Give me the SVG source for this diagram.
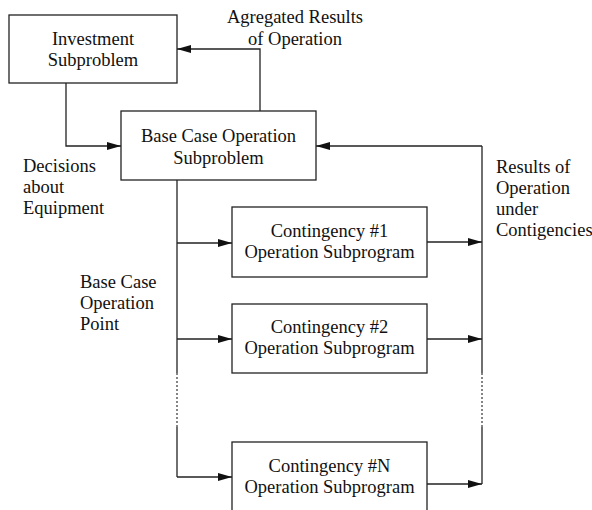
<svg xmlns="http://www.w3.org/2000/svg" width="592" height="510" viewBox="0 0 592 510">
<style>
.box{fill:#fff;stroke:#222;stroke-width:1.3}
.ln{fill:none;stroke:#222;stroke-width:1.3}
.dot{fill:none;stroke:#222;stroke-width:1.1;stroke-dasharray:2,2}
text{font-size:18.5px;fill:#111}
.c{text-anchor:middle}
</style>
<defs>
<marker id="ah" viewBox="0 0 14 8" refX="14" refY="4" markerWidth="14" markerHeight="8" markerUnits="userSpaceOnUse" orient="auto">
<path d="M0,0 L14,4 L0,8 Z" fill="#111"/>
</marker>
</defs>
<rect width="592" height="510" fill="#fff"/>
<g id="connectors">
<path class="ln" d="M66,83 V146 H121" marker-end="url(#ah)"/>
<path class="ln" d="M260,111 V49 H177" marker-end="url(#ah)"/>
<path class="ln" d="M482,146 H316" marker-end="url(#ah)"/>
<path class="ln" d="M177,180 V373"/>
<path class="dot" d="M177,373 V427"/>
<path class="ln" d="M177,427 V477"/>
<path class="ln" d="M177,243 H232" marker-end="url(#ah)"/>
<path class="ln" d="M177,339 H232" marker-end="url(#ah)"/>
<path class="ln" d="M177,477 H232" marker-end="url(#ah)"/>
<path class="ln" d="M482,146 V373"/>
<path class="dot" d="M482,373 V427"/>
<path class="ln" d="M482,427 V484"/>
<path class="ln" d="M427,242 H482" marker-end="url(#ah)"/>
<path class="ln" d="M427,339 H482" marker-end="url(#ah)"/>
<path class="ln" d="M427,484 H482" marker-end="url(#ah)"/>
</g>
<g font-family="'Liberation Serif', 'DejaVu Serif', serif">
<g id="investment">
<rect class="box" x="9" y="15" width="168" height="68"/>
<text class="c" x="93" y="45">Investment</text>
<text class="c" x="93" y="66">Subproblem</text>
</g>
<g id="basecase">
<rect class="box" x="121" y="111" width="195" height="69"/>
<text class="c" x="218.5" y="142">Base Case Operation</text>
<text class="c" x="218.5" y="164">Subproblem</text>
</g>
<g id="cont1">
<rect class="box" x="232" y="207" width="195" height="70"/>
<text class="c" x="329.5" y="237">Contingency #1</text>
<text class="c" x="329.5" y="258">Operation Subprogram</text>
</g>
<g id="cont2">
<rect class="box" x="232" y="304" width="195" height="69"/>
<text class="c" x="329.5" y="333">Contingency #2</text>
<text class="c" x="329.5" y="354">Operation Subprogram</text>
</g>
<g id="contN">
<rect class="box" x="232" y="442" width="195" height="80"/>
<text class="c" x="329.5" y="472">Contingency #N</text>
<text class="c" x="329.5" y="493">Operation Subprogram</text>
</g>
<g id="labels">
<text class="c" x="295" y="23">Agregated Results</text>
<text class="c" x="295" y="45">of Operation</text>
<text x="23" y="172">Decisions</text>
<text x="23" y="193">about</text>
<text x="23" y="214">Equipment</text>
<text x="496" y="173">Results of</text>
<text x="496" y="194">Operation</text>
<text x="496" y="215">under</text>
<text x="496" y="236">Contigencies</text>
<text x="80" y="288">Base Case</text>
<text x="80" y="309">Operation</text>
<text x="80" y="330">Point</text>
</g>
</g>
</svg>
